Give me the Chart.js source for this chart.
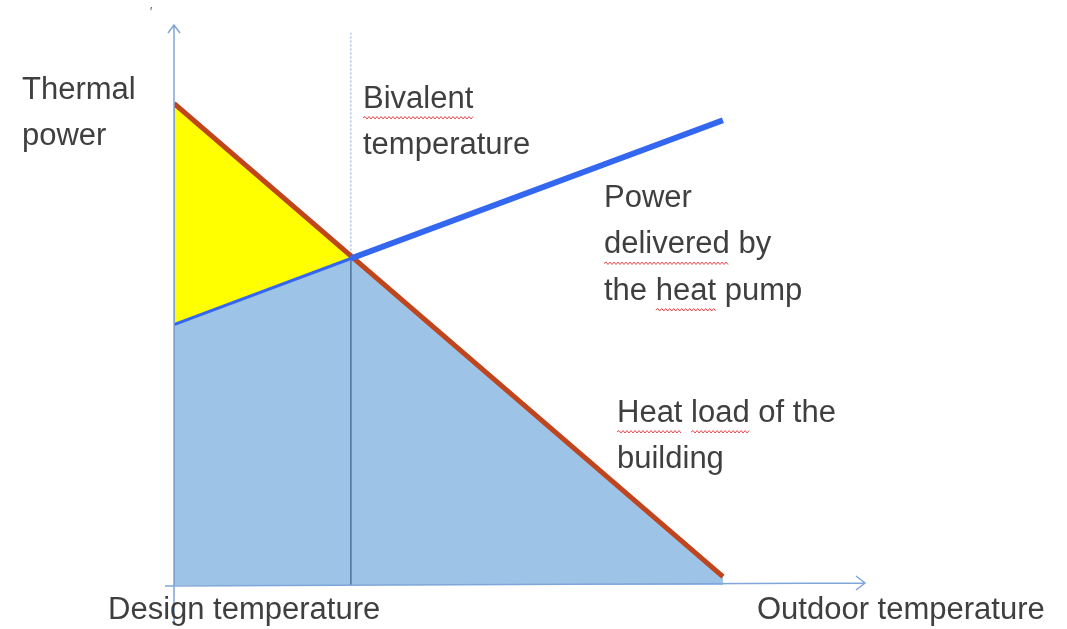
<!DOCTYPE html>
<html>
<head>
<meta charset="utf-8">
<script src="https://cdn.jsdelivr.net/npm/chart.js@4.4.1/dist/chart.umd.min.js"></script>
<style>
  html, body { margin: 0; padding: 0; background: #fff; }
  canvas { display: block; }
</style>
</head>
<body>
<canvas id="c" width="1067" height="629"></canvas>
<script>
// outdoor temperature (arbitrary units, design temp = 0) and thermal power (arbitrary units)
const loadX = [0, 32, 99.3];
const loadY = [86, 58.3, 1.5];
const pumpX = [0, 32, 99.3];
const pumpY = [46.5, 58.3, 83];
const bivalentX = 32;
const bivalentTop = 98.6;
const axisMaxX = 125;
const axisMaxY = 100;

const labels = [
  { lines: ["Thermal", "power"], x: 22, y: 90 },
  { lines: ["Bivalent", "temperature"], x: 363, y: 99, wavy: [[0, "", "Bivalent"]] },
  { lines: ["Power", "delivered by", "the heat pump"], x: 604, y: 198,
    wavy: [[1, "", "delivered"], [2, "the ", "heat"]] },
  { lines: ["Heat load of the", "building"], x: 617, y: 413,
    wavy: [[0, "", "Heat"], [0, "Heat ", "load"]] },
  { lines: ["Design temperature"], x: 108, y: 610 },
  { lines: ["Outdoor temperature"], x: 757, y: 610 }
];

const pts = (xs, ys) => xs.map((x, i) => ({ x, y: ys[i] }));
const intersect = { x: bivalentX, y: pumpY[1] };

const FONT = "31px 'Liberation Sans', Arial, sans-serif";

function squiggle(ctx, x1, x2, y) {
  ctx.beginPath();
  let up = true;
  ctx.moveTo(x1, y);
  for (let x = x1 + 2; x <= x2; x += 2) {
    ctx.lineTo(x, up ? y - 1.5 : y + 1);
    up = !up;
  }
  ctx.stroke();
}

const decor = {
  id: "decor",
  afterDatasetsDraw(chart) {
    const ctx = chart.ctx;
    const xs = chart.scales.x, ys = chart.scales.y;
    const x0 = xs.getPixelForValue(0), y0 = ys.getPixelForValue(0);
    const xEnd = xs.getPixelForValue(axisMaxX), yEnd = ys.getPixelForValue(axisMaxY);

    ctx.save();
    ctx.strokeStyle = "#7FA7DA";
    ctx.lineWidth = 1.5;
    // y axis
    ctx.beginPath();
    ctx.moveTo(x0, y0 + 40);
    ctx.lineTo(x0, yEnd);
    ctx.moveTo(x0 - 6, yEnd + 8);
    ctx.lineTo(x0, yEnd);
    ctx.lineTo(x0 + 6, yEnd + 8);
    // x axis
    ctx.moveTo(x0 - 9, y0 + 1);
    ctx.lineTo(xEnd, y0 - 2);
    ctx.moveTo(xEnd - 9, y0 - 9);
    ctx.lineTo(xEnd, y0 - 2);
    ctx.lineTo(xEnd - 9, y0 + 5);
    ctx.stroke();

    // text
    ctx.font = FONT;
    ctx.fillStyle = "#3F3F3F";
    ctx.textBaseline = "middle";
    ctx.textAlign = "left";
    labels.forEach(l => {
      l.lines.forEach((s, i) => ctx.fillText(s, l.x, l.y + i * 46.5));
      (l.wavy || []).forEach(([li, pre, word]) => {
        const sx = l.x + ctx.measureText(pre).width;
        const w = ctx.measureText(word).width;
        ctx.strokeStyle = "#E5484D";
        ctx.lineWidth = 1;
        squiggle(ctx, sx, sx + w, l.y + li * 46.5 + 19);
      });
    });
    ctx.font = "12px 'Liberation Sans', Arial, sans-serif";
    ctx.fillStyle = "#555";
    ctx.fillText("\u2032", 150, 13);
    ctx.restore();
  }
};

new Chart(document.getElementById("c"), {
  type: "scatter",
  data: {
    datasets: [
      {
        label: "Heat load of the building",
        data: pts([loadX[0], loadX[2]], [loadY[0], loadY[2]]),
        showLine: true, pointRadius: 0,
        borderColor: "#C0441C", borderWidth: 5,
        order: 1
      },
      {
        label: "Power delivered by the heat pump",
        data: pts(pumpX, pumpY),
        showLine: true, pointRadius: 0,
        borderColor: "#3467F0", borderWidth: 6,
        segment: { borderWidth: c => c.p0DataIndex === 0 ? 3 : 6 },
        order: 0
      },
      {
        label: "bivalent dotted",
        data: [intersect, { x: bivalentX, y: bivalentTop }],
        showLine: true, pointRadius: 0,
        borderColor: "#7FA7DA", borderWidth: 1, borderDash: [2, 2],
        order: 2
      },
      {
        label: "bivalent edge",
        data: [{ x: bivalentX, y: 0 }, intersect],
        showLine: true, pointRadius: 0,
        borderColor: "#4F7299", borderWidth: 1.5,
        order: 2
      },
      {
        label: "left edge",
        data: [{ x: 0, y: 0 }, { x: 0, y: loadY[0] }],
        showLine: true, pointRadius: 0,
        borderColor: "#6A86A6", borderWidth: 1.5,
        order: 2
      },
      {
        label: "heat pump covered",
        data: [pts(pumpX, pumpY)[0], intersect, pts(loadX, loadY)[2]],
        showLine: true, pointRadius: 0,
        borderColor: "#9DC3E6", borderWidth: 0,
        backgroundColor: "#9DC3E6", fill: "origin",
        order: 3
      },
      {
        label: "backup heating",
        data: [pts(loadX, loadY)[0], intersect],
        showLine: true, pointRadius: 0,
        borderColor: "#FFFF00", borderWidth: 0,
        backgroundColor: "#FFFF00", fill: "origin",
        order: 4
      }
    ]
  },
  options: {
    responsive: false,
    animation: false,
    devicePixelRatio: 1,
    layout: { padding: { left: 174, right: 202, top: 25, bottom: 44 } },
    plugins: { legend: { display: false }, tooltip: { enabled: false } },
    scales: {
      x: { type: "linear", min: 0, max: axisMaxX, display: false },
      y: { type: "linear", min: 0, max: axisMaxY, display: false }
    }
  },
  plugins: [decor]
});
</script>
</body>
</html>
